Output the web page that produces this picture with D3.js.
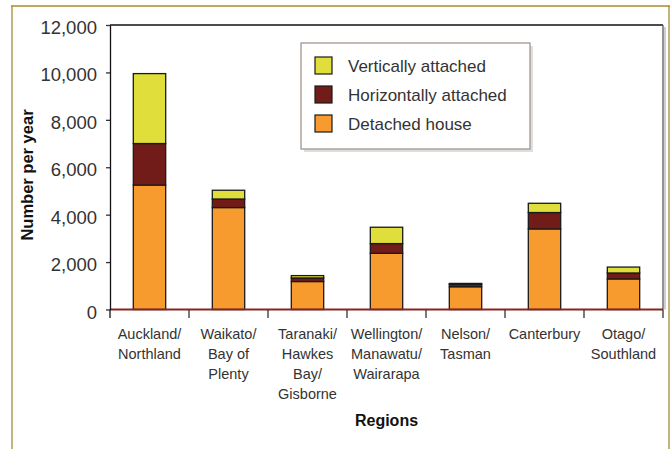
<!DOCTYPE html>
<html>
<head>
<meta charset="utf-8">
<script src="https://cdn.jsdelivr.net/npm/d3@7"></script>
<style>
  html, body { margin: 0; padding: 0; background: #fff; }
  svg { display: block; font-family: "Liberation Sans", Arial, sans-serif; }
</style>
</head>
<body>
<svg id="chart" width="672" height="449"></svg>
<script>
// Regions (label lines) and dwelling counts per year by type
const regions = [
  ["Auckland/", "Northland"],
  ["Waikato/", "Bay of", "Plenty"],
  ["Taranaki/", "Hawkes", "Bay/", "Gisborne"],
  ["Wellington/", "Manawatu/", "Wairarapa"],
  ["Nelson/", "Tasman"],
  ["Canterbury"],
  ["Otago/", "Southland"]
];
const detachedHouse        = [5250, 4300, 1180, 2370, 960, 3400, 1290];
const horizontallyAttached = [1750, 360, 150, 410, 100, 690, 250];
const verticallyAttached   = [2950, 370, 100, 690, 40, 390, 250];
const yTicks = [0, 2000, 4000, 6000, 8000, 10000, 12000];
const seriesNames = ["Detached house", "Horizontally attached", "Vertically attached"];
const seriesColors = ["#f89b2e", "#711c18", "#e0de3a"];

const svg = d3.select("#chart");
const plotL = 110, plotR = 663, plotT = 25, plotB = 309.5;

// Outer frame
svg.append("line").attr("x1", 12).attr("x2", 12).attr("y1", 6).attr("y2", 449)
  .attr("stroke", "#c6b47c").attr("stroke-width", 2);
svg.append("line").attr("x1", 669).attr("x2", 669).attr("y1", 6).attr("y2", 449)
  .attr("stroke", "#c6b47c").attr("stroke-width", 2);
svg.append("line").attr("x1", 11).attr("x2", 670).attr("y1", 6).attr("y2", 6)
  .attr("stroke", "#a88a2c").attr("stroke-width", 1.5);

const keys = d3.range(regions.length);
const x = d3.scaleBand().domain(keys).range([plotL, plotR]).padding(0);
const y = d3.scaleLinear().domain([0, 12000]).range([plotB, plotT]);

// Plot border (top and right, with soft shadow on the right)
svg.append("line").attr("x1", plotR + 2).attr("x2", plotR + 2).attr("y1", plotT + 2).attr("y2", plotB)
  .attr("stroke", "#cfcfcf").attr("stroke-width", 2);
svg.append("line").attr("x1", plotL).attr("x2", plotR).attr("y1", plotT).attr("y2", plotT)
  .attr("stroke", "#111").attr("stroke-width", 1.5);
svg.append("line").attr("x1", plotR).attr("x2", plotR).attr("y1", plotT).attr("y2", plotB)
  .attr("stroke", "#6e6e6e").attr("stroke-width", 1.5);

// Stacked bars
const rows = keys.map(i => ({
  i,
  "Detached house": detachedHouse[i],
  "Horizontally attached": horizontallyAttached[i],
  "Vertically attached": verticallyAttached[i]
}));
const stacked = d3.stack().keys(seriesNames)(rows);
const barW = x.bandwidth() * 0.41;

stacked.forEach((layer, li) => {
  svg.append("g").selectAll("rect").data(layer).join("rect")
    .attr("x", d => x(d.data.i) + (x.bandwidth() - barW) / 2)
    .attr("width", barW)
    .attr("y", d => y(d[1]))
    .attr("height", d => y(d[0]) - y(d[1]))
    .attr("fill", seriesColors[li])
    .attr("stroke", "#1a1a1a")
    .attr("stroke-width", 1.3);
});

// Zero line
svg.append("line").attr("x1", plotL).attr("x2", plotR).attr("y1", y(0)).attr("y2", y(0))
  .attr("stroke", "#8a2424").attr("stroke-width", 2.2);

// Y axis
const yAxis = svg.append("g").attr("transform", `translate(${plotL},0)`)
  .call(d3.axisLeft(y).tickValues(yTicks).tickFormat(d3.format(",")).tickSize(4).tickSizeOuter(0));
yAxis.select(".domain").attr("stroke", "#111").attr("stroke-width", 1.3);
yAxis.selectAll(".tick line").attr("stroke", "#333").attr("stroke-width", 1.3);
yAxis.selectAll(".tick text").attr("x", -13).attr("dy", "0.46em")
  .attr("font-size", 18.5).attr("fill", "#333").attr("font-family", "Liberation Sans, Arial, sans-serif");
svg.append("line").attr("x1", plotL).attr("x2", plotL).attr("y1", plotB).attr("y2", 318)
  .attr("stroke", "#111").attr("stroke-width", 1.3);

// X category dividers and labels
const xDiv = keys.map(i => x(i)).concat([plotR]);
svg.append("g").selectAll("line").data(xDiv.slice(1)).join("line")
  .attr("x1", d => d).attr("x2", d => d).attr("y1", plotB).attr("y2", 318)
  .attr("stroke", "#333").attr("stroke-width", 1.3);

const labels = svg.append("g").attr("font-size", 14.5).attr("fill", "#333").attr("text-anchor", "middle");
labels.selectAll("text").data(keys).join("text")
  .attr("x", i => x(i) + x.bandwidth() / 2)
  .attr("y", 339)
  .selectAll("tspan").data(i => regions[i]).join("tspan")
  .attr("x", function () { return d3.select(this.parentNode).attr("x"); })
  .attr("dy", (d, j) => j === 0 ? 0 : 20)
  .text(d => d);

// Axis titles
svg.append("text").attr("x", (plotL + plotR) / 2).attr("y", 426)
  .attr("text-anchor", "middle").attr("font-size", 16).attr("font-weight", "bold").attr("fill", "#111")
  .text("Regions");
svg.append("text").attr("transform", "translate(33,175) rotate(-90)")
  .attr("text-anchor", "middle").attr("font-size", 16.5).attr("font-weight", "bold").attr("fill", "#111")
  .text("Number per year");

// Legend
const lg = svg.append("g").attr("transform", "translate(301,43)");
lg.append("rect").attr("x", 3).attr("y", 3).attr("width", 229).attr("height", 106)
  .attr("fill", "#d6d6d6").attr("opacity", 0.8);
lg.append("rect").attr("x", 0).attr("y", 0).attr("width", 229).attr("height", 106)
  .attr("fill", "#fff").attr("stroke", "#9c8e86").attr("stroke-width", 1.2);
const legendOrder = [2, 1, 0];
legendOrder.forEach((si, k) => {
  const gy = 14 + k * 29;
  lg.append("rect").attr("x", 14).attr("y", gy).attr("width", 17).attr("height", 17)
    .attr("fill", seriesColors[si]).attr("stroke", "#1a1a1a").attr("stroke-width", 1.2);
  lg.append("text").attr("x", 47).attr("y", gy + 15).attr("font-size", 17).attr("fill", "#333")
    .text(seriesNames[si]);
});
</script>
</body>
</html>
